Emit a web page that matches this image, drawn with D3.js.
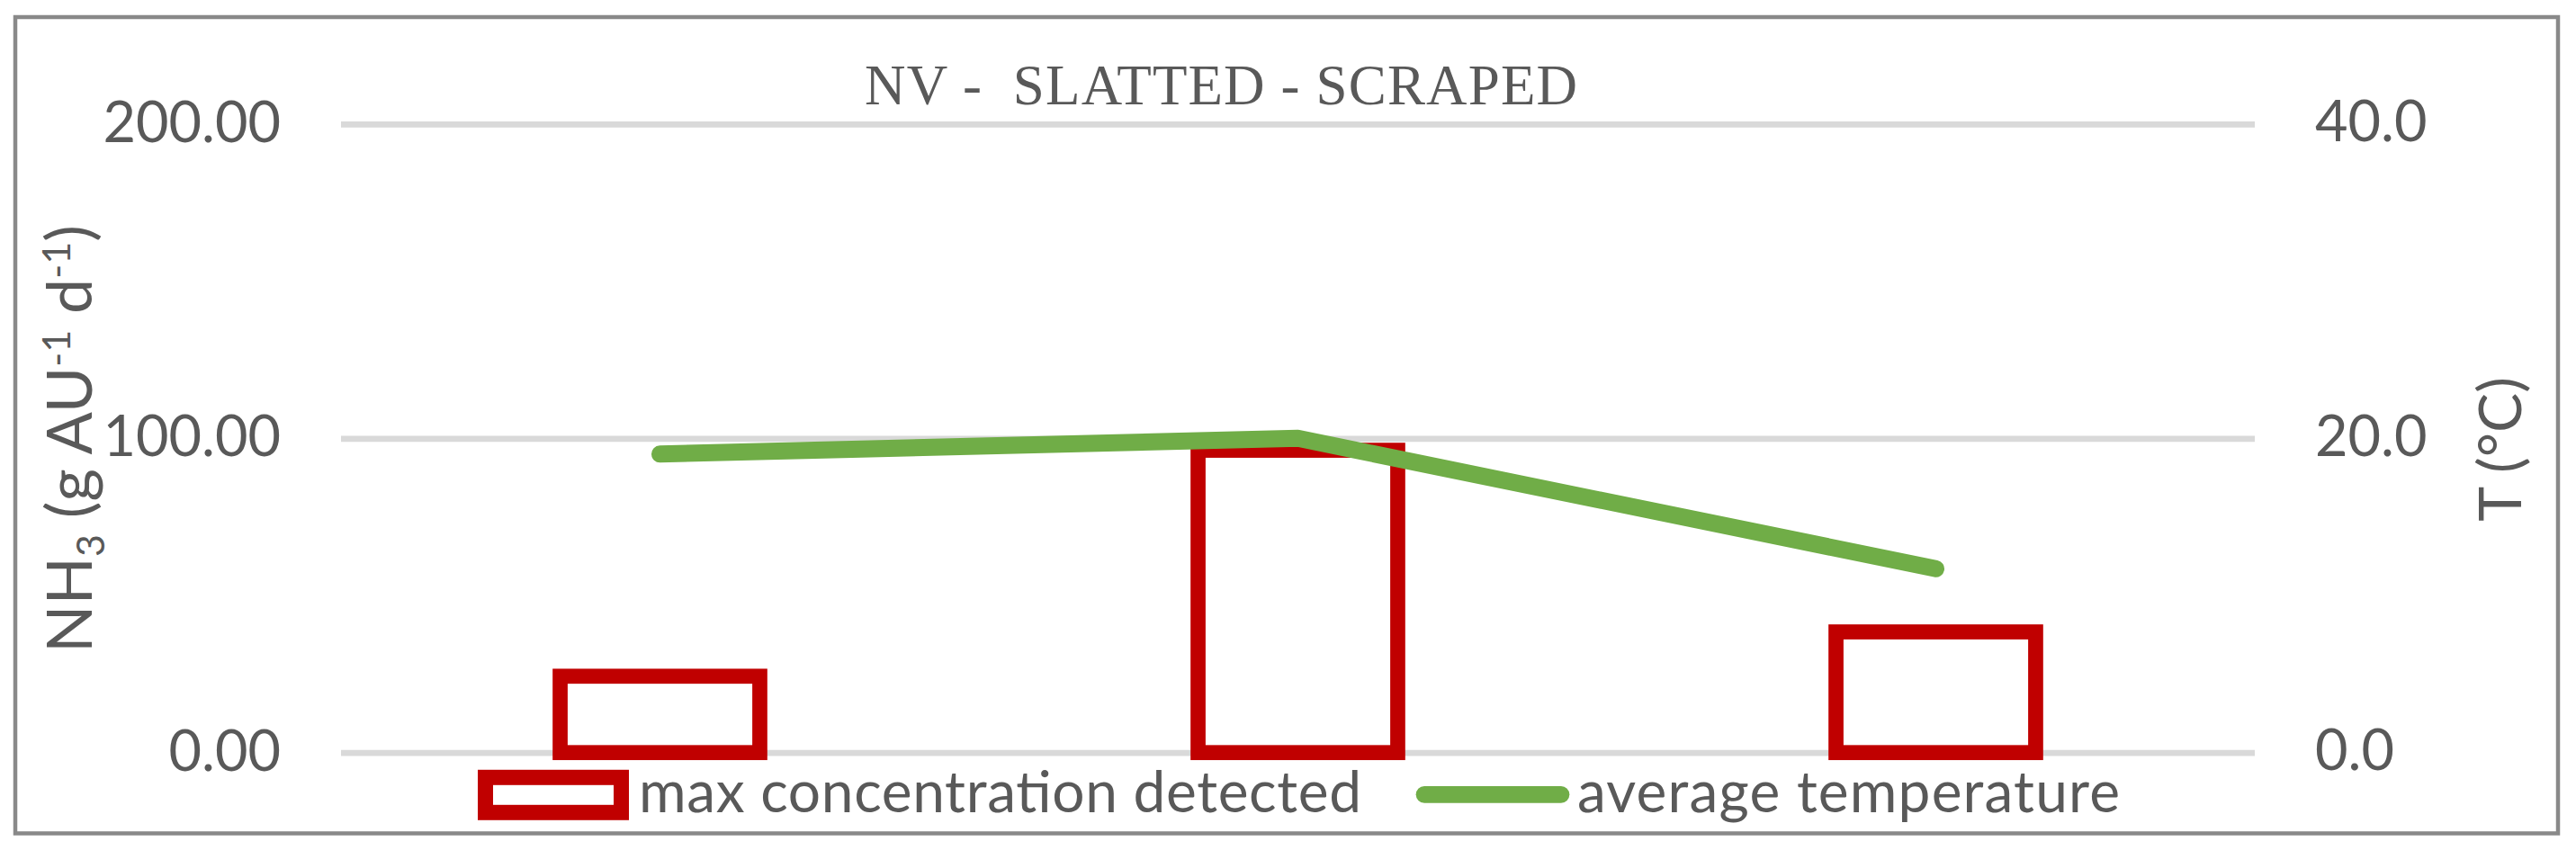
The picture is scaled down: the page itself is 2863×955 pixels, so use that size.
<!DOCTYPE html>
<html>
<head>
<meta charset="utf-8">
<script src="https://cdn.jsdelivr.net/npm/d3@7"></script>
<style>
  html, body { margin: 0; padding: 0; background: #ffffff; }
  svg { display: block; }
  text { font-family: Lato, "Open Sans", sans-serif; fill: #595959; }
  text.title { font-family: "Liberation Serif", "DejaVu Serif", serif; white-space: pre; }
</style>
</head>
<body>
<svg id="chart" width="2863" height="955"></svg>
<script>
// ---- data ----
const categories = ["Period 1", "Period 2", "Period 3"];
const maxConcentration = [24.3, 96.2, 38.4];     // NH3 (g AU-1 d-1), left axis
const avgTemperature = [19.0, 20.0, 11.7];       // T (°C), right axis
const leftTicks = [0, 100, 200];
const rightTicks = [0, 20, 40];
const titleText = "NV -  SLATTED - SCRAPED";
const legendLabels = ["max concentration detected", "average temperature"];

// ---- layout ----
const W = 2863, H = 955;
const plot = { left: 379, right: 2506, top: 137.9, bottom: 836.7 };
const svg = d3.select("#chart");

svg.append("rect").attr("x", 0).attr("y", 0).attr("width", W).attr("height", H).attr("fill", "#ffffff");

const x = d3.scaleBand().domain(categories).range([plot.left, plot.right]).padding(0);
const yL = d3.scaleLinear().domain([0, 200]).range([plot.bottom, plot.top]);
const yR = d3.scaleLinear().domain([0, 40]).range([plot.bottom, plot.top]);
const barFrac = 0.313;

// gridlines
const grid = svg.append("g").attr("transform", `translate(${plot.left},0)`)
  .call(d3.axisLeft(yL).tickValues(leftTicks).tickSize(-(plot.right - plot.left)).tickFormat(""));
grid.select(".domain").remove();
grid.selectAll(".tick line").attr("stroke", "#d9d9d9").attr("stroke-width", 6.7);

// left tick labels
const axL = svg.append("g").attr("transform", `translate(${plot.left},0)`)
  .call(d3.axisLeft(yL).tickValues(leftTicks).tickSize(0).tickPadding(67).tickFormat(d3.format(".2f")));
axL.select(".domain").remove();
axL.selectAll("text").attr("font-size", 63).attr("fill", "#595959").attr("dy", "0.31em");

// right tick labels
const axR = svg.append("g").attr("transform", `translate(${plot.right},0)`)
  .call(d3.axisRight(yR).tickValues(rightTicks).tickSize(0).tickPadding(67).tickFormat(d3.format(".1f")));
axR.select(".domain").remove();
axR.selectAll("text").attr("font-size", 63).attr("fill", "#595959").attr("dy", "0.30em");

// bars (outlined)
svg.append("g").selectAll("rect").data(maxConcentration).join("rect")
  .attr("x", (d, i) => x(categories[i]) + x.bandwidth() * (1 - barFrac) / 2)
  .attr("width", x.bandwidth() * barFrac)
  .attr("y", d => yL(d))
  .attr("height", d => yL(0) - yL(d))
  .attr("fill", "none")
  .attr("stroke", "#C00000")
  .attr("stroke-width", 16.7);

// temperature line
const line = d3.line()
  .x((d, i) => x(categories[i]) + x.bandwidth() / 2)
  .y(d => yR(d));
svg.append("path").datum(avgTemperature)
  .attr("d", line)
  .attr("fill", "none")
  .attr("stroke", "#70AD47")
  .attr("stroke-width", 19)
  .attr("stroke-linecap", "round")
  .attr("stroke-linejoin", "round");

// title
svg.append("text")
  .attr("class", "title")
  .attr("x", 961).attr("y", 115.7)
  .attr("font-size", 63)
  .attr("textLength", 792).attr("lengthAdjust", "spacing")
  .text(titleText);

// left axis title
const lt = svg.append("text")
  .attr("transform", "translate(102,488) rotate(-90)")
  .attr("text-anchor", "middle")
  .attr("font-size", 70);
lt.append("tspan").text("NH");
lt.append("tspan").attr("font-size", 43).attr("dy", 14).text("3");
lt.append("tspan").attr("dy", -14).text(" (g AU");
lt.append("tspan").attr("font-size", 43).attr("dy", -24).text("-1");
lt.append("tspan").attr("dy", 24).text(" d");
lt.append("tspan").attr("font-size", 43).attr("dy", -24).text("-1");
lt.append("tspan").attr("dy", 24).text(")");

// right axis title
svg.append("text")
  .attr("transform", "translate(2802,499.5) rotate(-90)")
  .attr("text-anchor", "middle")
  .attr("font-size", 66)
  .text("T (°C)");

// legend
const lg = svg.append("g");
lg.append("rect").attr("x", 539.5).attr("y", 864.3).attr("width", 151).attr("height", 39)
  .attr("fill", "none").attr("stroke", "#C00000").attr("stroke-width", 17);
lg.append("text").attr("x", 710).attr("y", 902.7).attr("font-size", 64)
  .attr("textLength", 803).attr("lengthAdjust", "spacing").text(legendLabels[0]);
lg.append("line").attr("x1", 1583).attr("x2", 1735).attr("y1", 883.3).attr("y2", 883.3)
  .attr("stroke", "#70AD47").attr("stroke-width", 18.7).attr("stroke-linecap", "round");
lg.append("text").attr("x", 1753).attr("y", 902.7).attr("font-size", 64)
  .attr("textLength", 603).attr("lengthAdjust", "spacing").text(legendLabels[1]);

// chart border
svg.append("rect").attr("x", 17).attr("y", 19).attr("width", 2843 - 17).attr("height", 926.5 - 19)
  .attr("fill", "none").attr("stroke", "#898989").attr("stroke-width", 4.5);
</script>
</body>
</html>
